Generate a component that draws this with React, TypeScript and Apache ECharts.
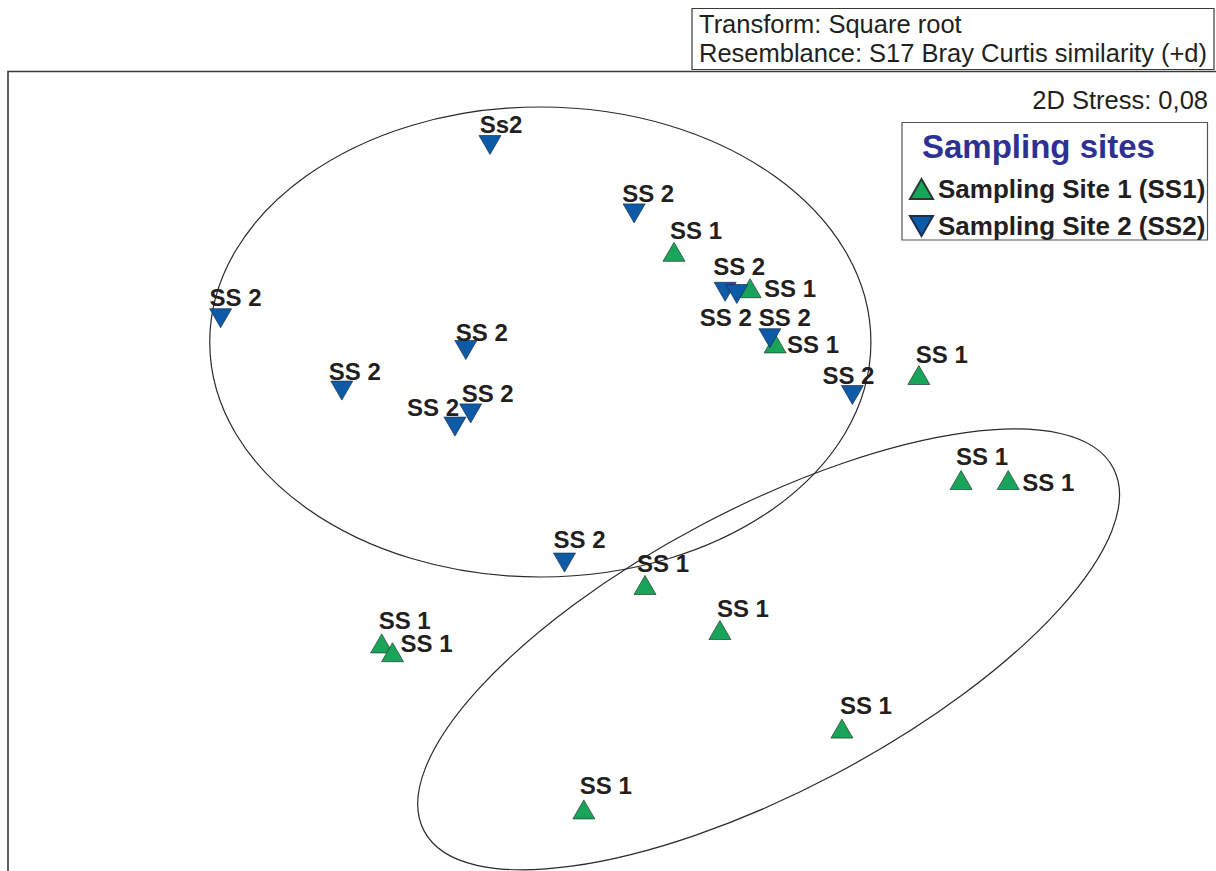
import React, { useEffect, useRef } from "react";
import * as echarts from "echarts";

// ---- Data (MDS coordinates) ----
const ss1X = [0.154, 0.343, 0.405, 0.762, 0.867, 0.984, 0.082, 0.268, -0.572, -0.545, 0.571, -0.07];
const ss1Y = [0.548, 0.457, 0.319, 0.24, -0.0225, -0.0225, -0.285, -0.3975, -0.431, -0.453, -0.644, -0.846];
const ss1Labels = ["SS 1", "SS 1", "SS 1", "SS 1", "SS 1", "SS 1", "SS 1", "SS 1", "SS 1", "SS 1", "SS 1", "SS 1"];

const ss2X = [-0.303, 0.055, -0.972, -0.363, -0.671, -0.351, -0.39, 0.281, 0.31, 0.392, 0.597, -0.118];
const ss2Y = [0.815, 0.644, 0.382, 0.3025, 0.201, 0.144, 0.111, 0.448, 0.4425, 0.332, 0.19, -0.229];
const ss2Labels = ["Ss2", "SS 2", "SS 2", "SS 2", "SS 2", "SS 2", "SS 2", "SS 2", "SS 2", "SS 2", "SS 2", "SS 2"];

// grouping ellipses (centre, semi-axes in axis units, tilt in degrees)
const ellipseCX = [-0.178, 0.389];
const ellipseCY = [0.3225, -0.446];
const ellipseRX = [0.821, 0.967];
const ellipseRY = [0.5875, 0.3535];
const ellipseTilt = [0, 27.8];

const seriesNames = ["Sampling Site 1 (SS1)", "Sampling Site 2 (SS2)"];
const headerLines = ["Transform: Square root", "Resemblance: S17 Bray Curtis similarity (+d)"];
const stressText = "2D Stress: 0,08";
const legendTitle = "Sampling sites";

// ---- Style: label offsets (px from marker centre) ----
const ss1LabelOffsets = [
  [22, -21], [40, 0], [38, 1], [23, -21], [21, -24], [40, 2],
  [18, -22], [23, -22], [23, -23], [34, -9], [24, -23], [22, -24],
];
const ss2LabelOffsets = [
  [11, -21], [14, -20], [15, -21], [16, -18], [13, -19], [17, -20],
  [-22, -19], [14, -25], [-11, 23], [15, -21], [-4, -20], [15, -23],
];

const FONT = "Arial, 'Liberation Sans', Helvetica, sans-serif";
const GREEN = "#18a55a";
const BLUE = "#0d5aa7";
const INK = "#231f20";

export default function App() {
  const ref = useRef<HTMLDivElement>(null);

  useEffect(() => {
    const chart = echarts.init(ref.current!, null, { renderer: "svg" });

    const makeData = (xs: number[], ys: number[], names: string[], offs: number[][]) =>
      xs.map((x, i) => ({ value: [x, ys[i]], name: names[i], label: { offset: offs[i] } }));

    const labelStyle = {
      show: true,
      position: "inside",
      formatter: "{b}",
      color: INK,
      fontSize: 24,
      fontWeight: "bold",
      fontFamily: FONT,
    };

    const option: any = {
      animation: false,
      grid: { left: 8, top: 71, width: 1208, height: 800, show: false },
      xAxis: { type: "value", min: -1.5, max: 1.5, show: false },
      yAxis: { type: "value", min: -1, max: 1, show: false },
      legend: {
        orient: "vertical",
        left: 904,
        top: 171,
        itemWidth: 23,
        itemHeight: 20,
        itemGap: 11,
        selectedMode: false,
        data: seriesNames,
        textStyle: { fontSize: 26, fontWeight: "bold", color: INK, fontFamily: FONT },
      },
      series: [
        {
          name: seriesNames[0],
          type: "scatter",
          symbol: "triangle",
          symbolSize: [22, 19],
          itemStyle: { color: GREEN, borderColor: "#2b3a30", borderWidth: 0.7, opacity: 1 },
          label: labelStyle,
          data: makeData(ss1X, ss1Y, ss1Labels, ss1LabelOffsets),
          z: 3,
        },
        {
          name: seriesNames[1],
          type: "scatter",
          symbol: "path://M0,0L22,0L11,19Z",
          symbolSize: [22, 19],
          itemStyle: { color: BLUE, borderColor: "#1c2f4a", borderWidth: 0.7, opacity: 1 },
          label: labelStyle,
          data: makeData(ss2X, ss2Y, ss2Labels, ss2LabelOffsets),
          z: 4,
        },
      ],
    };
    chart.setOption(option);

    const toPx = (p: number[]) => chart.convertToPixel({ gridIndex: 0 }, p) as number[];
    const ellipses = ellipseCX.map((cx, i) => {
      const c = toPx([cx, ellipseCY[i]]);
      const px = toPx([cx + ellipseRX[i], ellipseCY[i]]);
      const py = toPx([cx, ellipseCY[i] + ellipseRY[i]]);
      return {
        type: "ellipse",
        x: c[0],
        y: c[1],
        rotation: (ellipseTilt[i] * Math.PI) / 180,
        shape: { cx: 0, cy: 0, rx: Math.abs(px[0] - c[0]), ry: Math.abs(py[1] - c[1]) },
        style: { fill: "none", stroke: "#2a2a2a", lineWidth: 1.2 },
        silent: true,
        z: 1,
      };
    });

    const staticGraphics: any[] = [
      {
        type: "polyline",
        shape: { points: [[8, 900], [8, 71.5], [1240, 71.5]] },
        style: { fill: "none", stroke: "#3a3a3a", lineWidth: 1.6 },
        silent: true,
      },
      {
        type: "rect",
        shape: { x: 692, y: 8.5, width: 522, height: 61 },
        style: { fill: "#fff", stroke: "#3a3a3a", lineWidth: 1.2 },
        silent: true,
      },
      {
        type: "text",
        x: 699,
        y: 24,
        style: { text: headerLines[0], font: `25.5px ${FONT}`, fill: INK, align: "left", verticalAlign: "middle" },
        silent: true,
      },
      {
        type: "text",
        x: 699,
        y: 53,
        style: { text: headerLines[1], font: `25.5px ${FONT}`, fill: INK, align: "left", verticalAlign: "middle" },
        silent: true,
      },
      {
        type: "text",
        x: 1208,
        y: 100,
        style: { text: stressText, font: `25.5px ${FONT}`, fill: INK, align: "right", verticalAlign: "middle" },
        silent: true,
      },
      {
        type: "rect",
        shape: { x: 902, y: 122.5, width: 305.5, height: 117.5 },
        style: { fill: "none", stroke: "#555", lineWidth: 1.2 },
        silent: true,
      },
      {
        type: "text",
        x: 922,
        y: 146,
        style: {
          text: legendTitle,
          font: `bold 33px ${FONT}`,
          fill: "#2e3192",
          align: "left",
          verticalAlign: "middle",
        },
        silent: true,
      },
    ];

    chart.setOption({ graphic: [...staticGraphics, ...ellipses] });

    return () => chart.dispose();
  }, []);

  return (
    <div
      ref={ref}
      style={{ position: "fixed", left: 0, top: 0, width: 1216, height: 871, background: "#fff" }}
    />
  );
}
